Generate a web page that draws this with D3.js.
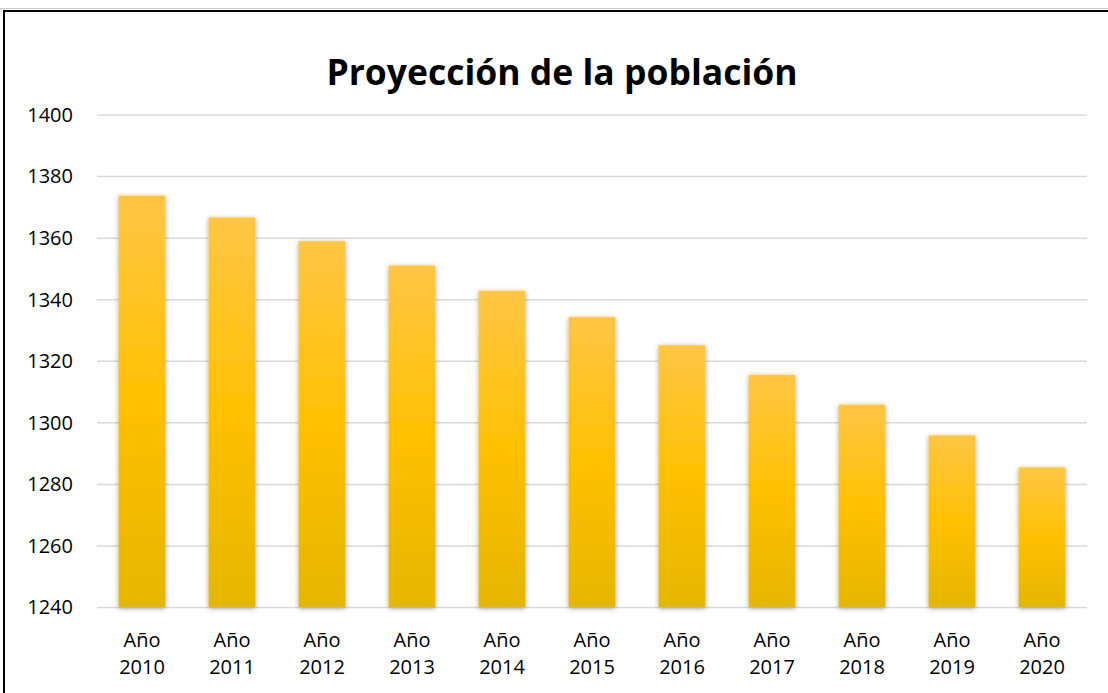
<!DOCTYPE html>
<html>
<head>
<meta charset="utf-8">
<script src="https://cdn.jsdelivr.net/npm/d3@7"></script>
<style>
    body { margin: 0; background: #fff; }
    svg { display: block; }
</style>
</head>
<body>
<div id="chart"></div>
<script>
"use strict";

// data
const years = ["2010", "2011", "2012", "2013", "2014", "2015", "2016", "2017", "2018", "2019", "2020"];
const population = [1373.8, 1366.7, 1359.0, 1351.1, 1342.9, 1334.3, 1325.2, 1315.6, 1305.9, 1295.9, 1285.5];
const yTicks = [1240, 1260, 1280, 1300, 1320, 1340, 1360, 1380, 1400];
const title = "Proyección de la población";

const msm = {
    width: 1108,
    height: 693,
    left: 97,
    right: 1087,
    top: 115,
    bottom: 607.5
}

const svg = d3.select("#chart")
    .append("svg")
    .attr("width", msm.width)
    .attr("height", msm.height);

const defs = svg.append("defs");

// bar fill: lighter at top, darker at bottom
let grad = defs.append("linearGradient")
    .attr("id", "barFill")
    .attr("x1", 0).attr("y1", 0).attr("x2", 0).attr("y2", 1);
grad.append("stop").attr("offset", "0%").attr("stop-color", "#ffc646");
grad.append("stop").attr("offset", "50%").attr("stop-color", "#ffc000");
grad.append("stop").attr("offset", "100%").attr("stop-color", "#e5b600");

// soft shadow round the bars
let shadow = defs.append("filter")
    .attr("id", "barShadow")
    .attr("x", "-30%").attr("y", "-10%")
    .attr("width", "160%").attr("height", "120%");
shadow.append("feDropShadow")
    .attr("dx", 0).attr("dy", 1)
    .attr("stdDeviation", 2.5)
    .attr("flood-color", "#000")
    .attr("flood-opacity", 0.35);

// frame: thin grey line at top, then black border at top and left
svg.append("line")
    .attr("x1", 0).attr("x2", msm.width)
    .attr("y1", 8.5).attr("y2", 8.5)
    .attr("stroke", "#c8c8c8")
    .attr("stroke-width", 1);
svg.append("path")
    .attr("d", "M4," + msm.height + " V11 H" + msm.width)
    .attr("fill", "none")
    .attr("stroke", "#000")
    .attr("stroke-width", 2);

// scales
let xScale = d3.scaleBand()
    .domain(years)
    .range([msm.left, msm.right])
    .paddingInner(0.48)
    .paddingOuter(0.24);

let yScale = d3.scaleLinear()
    .domain([1240, 1400])
    .range([msm.bottom, msm.top]);

// gridlines
svg.append("g")
    .selectAll("line")
    .data(yTicks)
    .enter()
    .append("line")
    .attr("x1", msm.left)
    .attr("x2", msm.right)
    .attr("y1", d => yScale(d))
    .attr("y2", d => yScale(d))
    .attr("stroke", "#d9d9d9")
    .attr("stroke-width", 1.5);

// y axis labels
let yAxis = d3.axisLeft(yScale)
    .tickValues(yTicks)
    .tickFormat(d3.format("d"))
    .tickSize(0)
    .tickPadding(0);
let yG = svg.append("g")
    .attr("transform", "translate(73,0)")
    .call(yAxis);
yG.select(".domain").remove();
yG.selectAll("text")
    .attr("fill", "#000")
    .style("font-family", "'Open Sans', 'Liberation Sans', sans-serif")
    .style("font-size", "20px");

// bars
svg.append("g")
    .selectAll("rect")
    .data(population)
    .enter()
    .append("rect")
    .attr("x", (d, i) => xScale(years[i]))
    .attr("y", d => yScale(d))
    .attr("width", xScale.bandwidth())
    .attr("height", d => yScale(1240) - yScale(d))
    .attr("fill", "url(#barFill)")
    .attr("filter", "url(#barShadow)");

// x labels on two lines
let xLab = svg.append("g")
    .selectAll("text")
    .data(years)
    .enter()
    .append("text")
    .attr("text-anchor", "middle")
    .attr("fill", "#000")
    .style("font-family", "'Open Sans', 'Liberation Sans', sans-serif")
    .style("font-size", "20px");
xLab.append("tspan")
    .attr("x", d => xScale(d) + xScale.bandwidth() / 2)
    .attr("y", 647)
    .text("Año");
xLab.append("tspan")
    .attr("x", d => xScale(d) + xScale.bandwidth() / 2)
    .attr("y", 674)
    .text(d => d);

// title
svg.append("text")
    .attr("x", 562)
    .attr("y", 85)
    .attr("text-anchor", "middle")
    .attr("fill", "#000")
    .style("font-family", "'Open Sans', 'Liberation Sans', sans-serif")
    .style("font-weight", "bold")
    .style("font-size", "35.5px")
    .text(title);
</script>
</body>
</html>
